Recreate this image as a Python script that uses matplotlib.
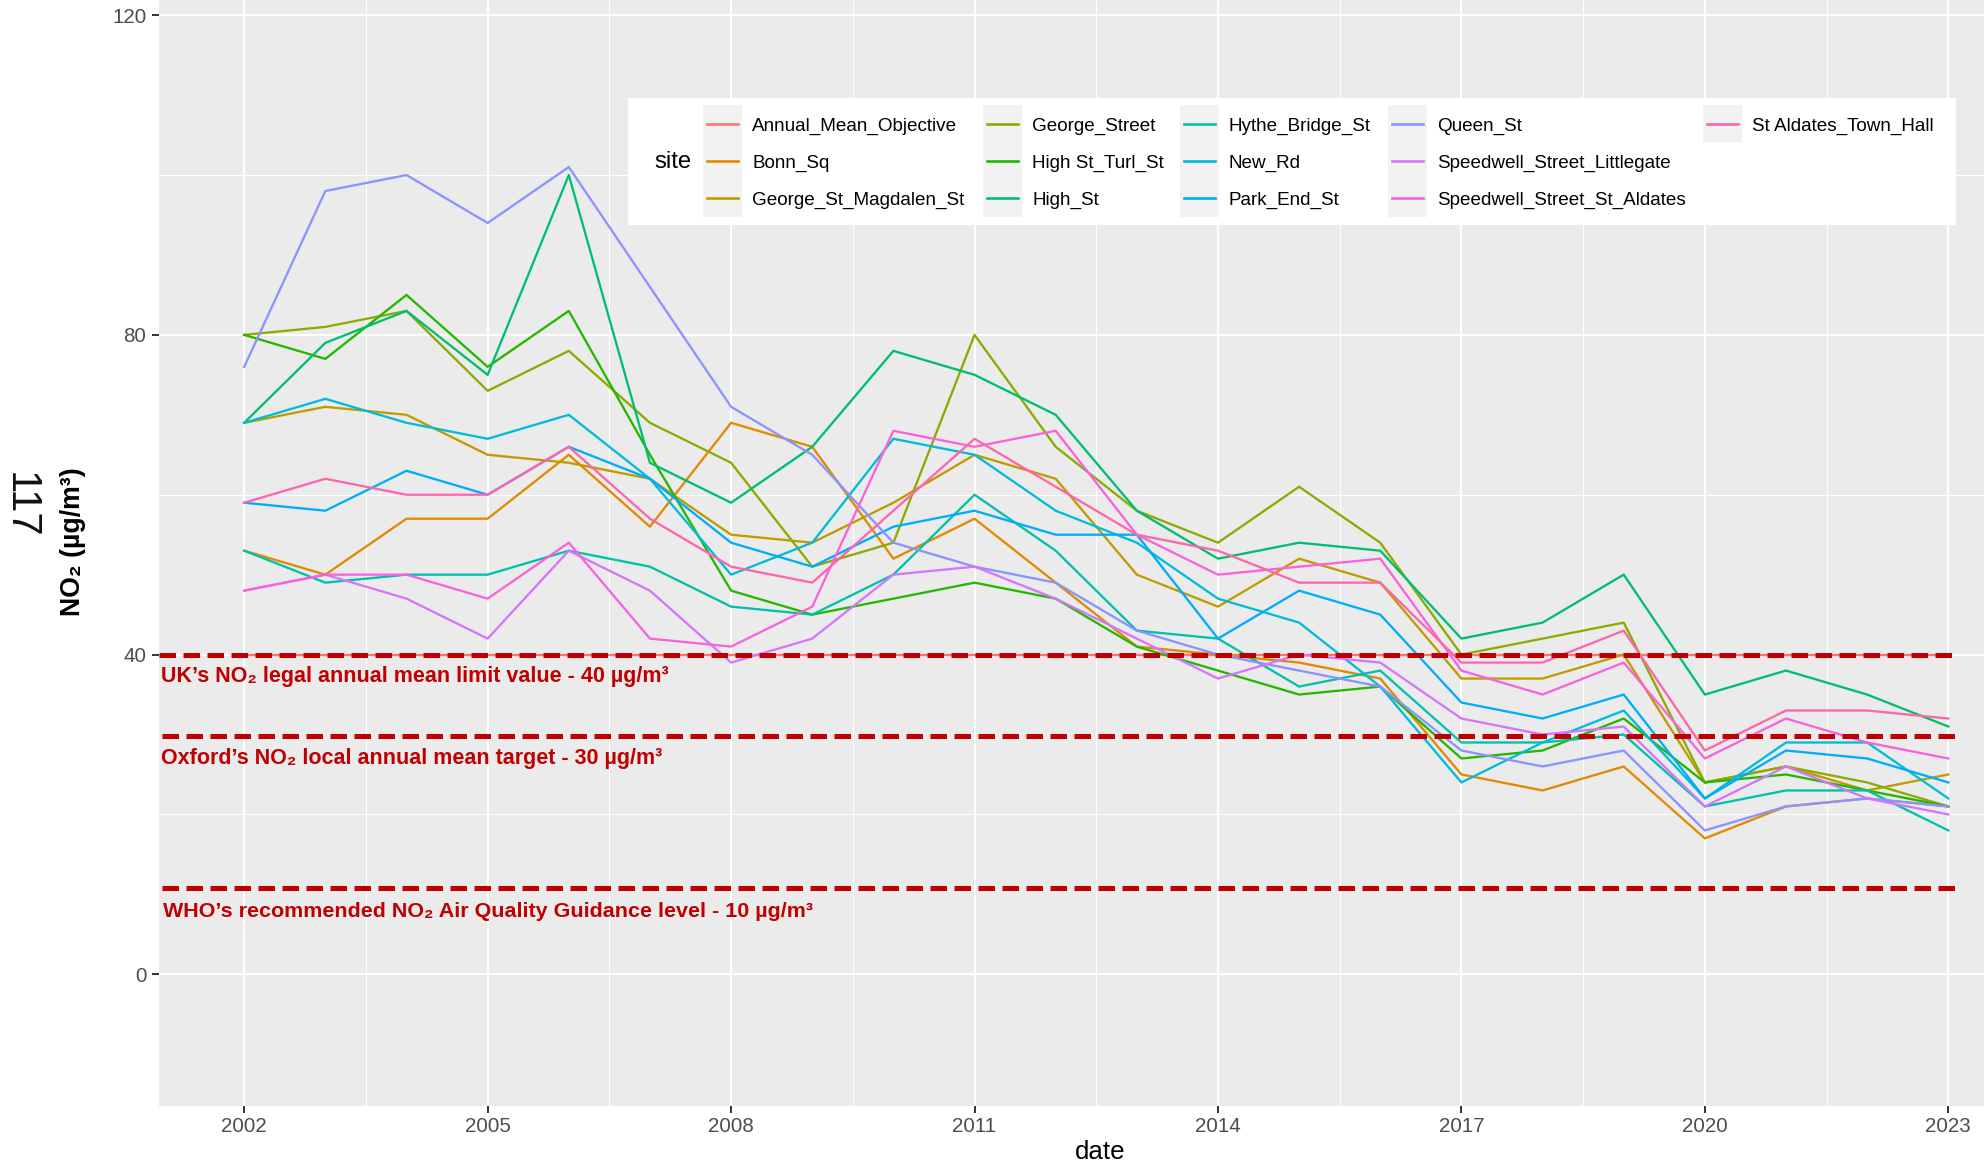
import matplotlib
matplotlib.use("Agg")
import matplotlib.pyplot as plt
from matplotlib.patches import Rectangle
from matplotlib.lines import Line2D

# ---------------- data ----------------
years = list(range(2002, 2024))

site_names = [
    "Annual_Mean_Objective", "Bonn_Sq", "George_St_Magdalen_St", "George_Street",
    "High St_Turl_St", "High_St", "Hythe_Bridge_St", "New_Rd", "Park_End_St",
    "Queen_St", "Speedwell_Street_Littlegate", "Speedwell_Street_St_Aldates",
    "St Aldates_Town_Hall",
]
site_colors = [
    "#F8766D", "#E18A00", "#BE9C00", "#8CAB00", "#24B700", "#00BE70", "#00C1AB",
    "#00BBDA", "#00ACFC", "#8B93FF", "#D575FE", "#F962DD", "#FF65AC",
]

annual_mean_objective = [40, 40, 40, 40, 40, 40, 40, 40, 40, 40, 40, 40, 40, 40, 40, 40, 40, 40, 40, 40, 40, 40]
bonn_sq               = [53, 50, 57, 57, 65, 56, 69, 66, 52, 57, 49, 41, 40, 39, 37, 25, 23, 26, 17, 21, 22, 21]
george_st_magdalen_st = [69, 71, 70, 65, 64, 62, 55, 54, 59, 65, 62, 50, 46, 52, 49, 37, 37, 40, 24, 26, 23, 25]
george_street         = [80, 81, 83, 73, 78, 69, 64, 51, 54, 80, 66, 58, 54, 61, 54, 40, 42, 44, 24, 26, 24, 21]
high_st_turl_st       = [80, 77, 85, 76, 83, 65, 48, 45, 47, 49, 47, 41, 38, 35, 36, 27, 28, 32, 24, 25, 23, 21]
high_st               = [69, 79, 83, 75, 100, 64, 59, 66, 78, 75, 70, 58, 52, 54, 53, 42, 44, 50, 35, 38, 35, 31]
hythe_bridge_st       = [53, 49, 50, 50, 53, 51, 46, 45, 50, 60, 53, 43, 42, 36, 38, 29, 29, 30, 21, 23, 23, 18]
new_rd                = [69, 72, 69, 67, 70, 62, 50, 54, 67, 65, 58, 54, 47, 44, 36, 24, 29, 33, 22, 29, 29, 22]
park_end_st           = [59, 58, 63, 60, 66, 62, 54, 51, 56, 58, 55, 55, 42, 48, 45, 34, 32, 35, 22, 28, 27, 24]
queen_st              = [76, 98, 100, 94, 101, 86, 71, 65, 54, 51, 49, 43, 40, 38, 36, 28, 26, 28, 18, 21, 22, 21]
speedwell_littlegate  = [48, 50, 47, 42, 53, 48, 39, 42, 50, 51, 47, 42, 37, 40, 39, 32, 30, 31, 21, 26, 22, 20]
speedwell_st_aldates  = [48, 50, 50, 47, 54, 42, 41, 46, 68, 66, 68, 55, 50, 51, 52, 38, 35, 39, 27, 32, 29, 27]
st_aldates_town_hall  = [59, 62, 60, 60, 66, 57, 51, 49, 58, 67, 61, 55, 53, 49, 49, 39, 39, 43, 28, 33, 33, 32]

series = [
    annual_mean_objective, bonn_sq, george_st_magdalen_st, george_street,
    high_st_turl_st, high_st, hythe_bridge_st, new_rd, park_end_st, queen_st,
    speedwell_littlegate, speedwell_st_aldates, st_aldates_town_hall,
]

x_major = [2002, 2005, 2008, 2011, 2014, 2017, 2020, 2023]
x_minor = [2003.5, 2006.5, 2009.5, 2012.5, 2015.5, 2018.5, 2021.5]
y_major = [0, 40, 80, 120]
y_minor = [20, 60, 100]

guide_y = [40, 29.85, 10.8]
guide_labels = [
    "UK\u2019s NO\u2082 legal annual mean limit value - 40 \u00b5g/m\u00b3",
    "Oxford\u2019s NO\u2082 local annual mean target - 30 \u00b5g/m\u00b3",
    "WHO\u2019s recommended NO\u2082 Air Quality Guidance level - 10 \u00b5g/m\u00b3",
]

# ---------------- figure ----------------
W, H = 1984, 1167
fig = plt.figure(figsize=(W / 100, H / 100), dpi=100)
renderer = fig.canvas.get_renderer()
FAM = ["Liberation Sans", "DejaVu Sans"]


def fx(px):
    return px / W


def fy(py):
    return 1 - py / H


def fit(text, target_w, weight="normal", base=20.0):
    t = fig.text(0, 0, text, fontsize=base, family=FAM, weight=weight)
    w = t.get_window_extent(renderer).width
    t.remove()
    return base * target_w / w


panel_l, panel_b = 159, 1106
ax = fig.add_axes([fx(panel_l), fy(panel_b), 1 - fx(panel_l), panel_b / H])
ax.set_facecolor("#EBEBEB")
for s in ax.spines.values():
    s.set_visible(False)

ax.set_xlim(2000.95, 2023.44)
ax.set_ylim(-16.48, 121.9)
ax.set_xticks(x_major)
ax.set_xticks(x_minor, minor=True)
ax.set_yticks(y_major)
ax.set_yticks(y_minor, minor=True)
ax.grid(which="major", color="white", linewidth=1.4)
ax.grid(which="minor", color="white", linewidth=0.75)
ax.set_axisbelow(True)

tick_fs = fit("2002", 45.5)
ax.tick_params(which="major", length=5, width=1.4, color="#333333",
               labelcolor="#4D4D4D", labelsize=tick_fs)
ax.tick_params(axis="x", which="major", pad=3)
ax.tick_params(axis="y", which="major", pad=4)
ax.tick_params(which="minor", length=0)
for lab in ax.get_xticklabels() + ax.get_yticklabels():
    lab.set_family(FAM)

for vals, col in zip(series, site_colors):
    ax.plot(years, vals, color=col, linewidth=1.65, solid_joinstyle="round")

# guide lines and labels
guide_x0 = [2000.95, 2000.99, 2000.99]
guide_x1 = [2023.1, 2023.1, 2023.1]
label_x = [2000.97, 2000.97, 2001.0]
label_y = [37.2, 27.0, 7.8]
label_w = [506, 500, 648]
for gy, x0, x1, txt, lx, ly, lw in zip(guide_y, guide_x0, guide_x1, guide_labels,
                                       label_x, label_y, label_w):
    ax.plot([x0, x1], [gy, gy], color="#C00000", linewidth=3.6,
            dashes=(3.3, 1.5), dash_capstyle="butt", zorder=5)
    ax.text(lx, ly, txt, color="#C00000", fontsize=fit(txt, lw, "bold"),
            weight="bold", family=FAM, ha="left", va="center", zorder=6)

# axis titles
ylab = "NO\u2082 (\u00b5g/m\u00b3)"
fig.text(fx(73), fy(542), ylab, rotation=90, ha="center", va="center",
         fontsize=fit(ylab, 148, "bold"), weight="bold", family=FAM, color="black")
fig.text(fx(1100), fy(1152), "date", ha="center", va="center",
         fontsize=fit("date", 50), family=FAM, color="black")
fig.text(fx(20), fy(505), "117", rotation=-90, ha="center", va="center",
         fontsize=fit("117", 67), family=FAM, color="#111111")

# ---------------- legend (drawn manually, ggplot style) ----------------
leg_box = Rectangle((fx(628), fy(225)), fx(1956) - fx(628), fy(98) - fy(225),
                    transform=fig.transFigure, facecolor="white", edgecolor="none",
                    zorder=10)
fig.patches.append(leg_box)

title_fs = fit("site", 37)
fig.text(fx(673), fy(162), "site", ha="center", va="center", fontsize=title_fs,
         family=FAM, color="black", zorder=11)

legend_fs = (fit("Annual_Mean_Objective", 206) + fit("Speedwell_Street_St_Aldates", 250)) / 2
col_key_x = [703, 983, 1180, 1388, 1703]
col_text_x = [752, 1032, 1229, 1437, 1752]
key_w = 39
key_top = 105
key_h = 37.3
n_rows = 3
for i, (name, col) in enumerate(zip(site_names, site_colors)):
    c, r = divmod(i, n_rows)
    kx = col_key_x[c]
    ky = key_top + r * key_h
    fig.patches.append(Rectangle((fx(kx), fy(ky + key_h)), fx(kx + key_w) - fx(kx),
                                 fy(ky) - fy(ky + key_h), transform=fig.transFigure,
                                 facecolor="#F2F2F2", edgecolor="none", zorder=11))
    cy = ky + key_h / 2
    fig.lines.append(Line2D([fx(kx + 4), fx(kx + key_w - 4)], [fy(cy), fy(cy)],
                            transform=fig.transFigure, color=col, linewidth=1.9,
                            zorder=12))
    fig.text(fx(col_text_x[c]), fy(cy + 2.5), name, ha="left", va="center",
             fontsize=legend_fs, family=FAM, color="black", zorder=12)

fig.savefig("out.png", dpi=100)
